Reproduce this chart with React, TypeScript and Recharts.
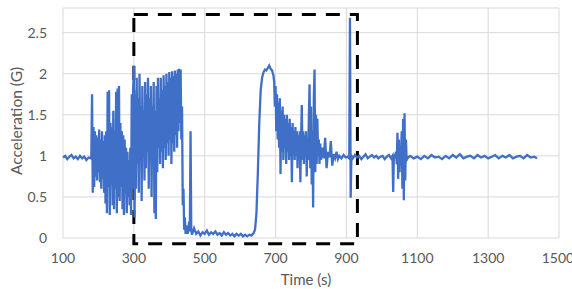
import {
  LineChart, Line, XAxis, YAxis, CartesianGrid, ReferenceArea,
} from 'recharts';

// [time (s), acceleration (G)], phase by phase
const idleBefore: [number, number][] = [
  [100, 0.98], [106, 1.0], [112, 0.96], [118, 0.99], [124, 1.01], [130, 0.97], [136, 0.99],
  [142, 0.96], [148, 1.0], [154, 0.97], [160, 0.99], [166, 0.95], [172, 0.98], [178, 0.97],
];

const handling: [number, number][] = [
  [180, 1.0], [182, 1.75], [184, 0.55], [186, 1.35], [188, 0.62], [190, 1.3], [192, 0.75],
  [194, 1.25], [196, 0.7], [198, 1.22], [200, 0.8], [202, 1.32], [204, 0.68], [206, 1.2],
  [208, 0.6], [210, 1.3], [212, 0.72], [214, 1.18], [216, 0.55], [218, 1.25], [220, 0.42],
  [222, 1.3], [224, 0.3], [226, 1.78], [228, 0.62], [230, 1.8], [232, 0.28], [234, 1.4],
  [236, 0.65], [238, 1.35], [240, 0.4], [242, 1.55], [244, 0.35], [246, 1.3], [248, 0.6],
  [250, 1.78], [252, 0.3], [254, 1.82], [256, 0.5], [258, 1.85], [260, 0.45], [262, 1.4],
  [264, 0.62], [266, 1.3], [268, 0.35], [270, 1.25], [272, 0.28], [274, 1.2], [276, 0.55],
  [278, 1.1], [280, 0.3], [282, 1.05], [284, 0.5], [286, 0.95], [288, 0.4], [290, 1.1],
  [292, 0.28], [294, 1.75], [296, 0.6], [298, 1.8],
];

const launch: [number, number][] = [
  [300, 2.1], [302, 0.25], [304, 1.75], [306, 0.6], [308, 1.95], [310, 0.9], [312, 1.7],
  [314, 0.55], [316, 2.0], [318, 0.95], [320, 1.6], [322, 0.45], [324, 1.85], [326, 1.0],
  [328, 1.55], [330, 0.7], [332, 1.9], [334, 0.85], [336, 1.75], [338, 1.05], [340, 1.95],
  [342, 0.6], [344, 1.7], [346, 0.95], [348, 1.85], [350, 0.5], [352, 1.6], [354, 1.0],
  [356, 1.9], [358, 0.3], [360, 1.55], [362, 0.23], [364, 1.85], [366, 0.8], [368, 1.95],
  [370, 1.1], [372, 1.7], [374, 0.9], [376, 1.95], [378, 1.05], [380, 1.8], [382, 0.85],
  [384, 1.98], [386, 1.1], [388, 1.85], [390, 0.95], [392, 2.0], [394, 1.15], [396, 1.9],
  [398, 1.0], [400, 2.02], [402, 1.2], [404, 1.95], [406, 0.9], [408, 2.03], [410, 1.15],
  [412, 1.97], [414, 1.05], [416, 2.04], [418, 1.25], [420, 2.0], [422, 1.1], [424, 2.05],
  [426, 1.3], [428, 2.06], [430, 1.4], [432, 2.05], [434, 1.2], [436, 1.6], [438, 0.4],
  [440, 0.6], [442, 0.1], [444, 0.25], [446, 0.05],
];

const freeFall: [number, number][] = [
  [448, 0.15], [452, 0.05], [456, 0.2], [458, 0.08], [460, 1.3], [462, 0.1], [464, 0.04],
  [470, 0.12], [476, 0.05], [482, 0.08], [488, 0.03], [494, 0.07], [500, 0.05], [506, 0.09],
  [512, 0.04], [518, 0.07], [524, 0.05], [530, 0.08], [536, 0.04], [542, 0.06], [548, 0.03],
  [554, 0.07], [560, 0.04], [566, 0.06], [572, 0.03], [578, 0.05], [584, 0.02], [590, 0.05],
  [596, 0.03], [602, 0.05], [608, 0.02], [614, 0.04], [620, 0.02], [626, 0.04], [632, 0.03],
  [638, 0.06],
];

const recovery: [number, number][] = [
  [642, 0.1], [646, 0.3], [650, 0.8], [654, 1.4], [658, 1.8], [662, 1.95], [666, 2.02],
  [670, 2.05], [674, 2.04], [678, 2.07], [682, 2.1], [686, 2.06], [690, 2.04], [694, 1.98],
  [696, 1.9],
];

const settling: [number, number][] = [
  [698, 1.6], [700, 1.85], [702, 1.3], [704, 1.75], [706, 1.2], [708, 1.65], [710, 1.1],
  [712, 1.7], [714, 0.78], [716, 1.55], [718, 1.05], [720, 1.6], [722, 0.95], [724, 1.5],
  [726, 1.1], [728, 1.45], [730, 0.9], [732, 1.5], [734, 1.05], [736, 1.4], [738, 0.95],
  [740, 1.45], [742, 1.0], [744, 1.35], [746, 0.68], [748, 1.4], [750, 1.05], [752, 1.3],
  [754, 0.95], [756, 1.35], [758, 1.0], [760, 1.3], [762, 0.85], [764, 1.25], [766, 1.0],
  [768, 1.3], [770, 0.68], [772, 1.2], [774, 1.62], [776, 0.95], [778, 1.3], [780, 0.9],
  [782, 1.25], [784, 1.0], [786, 1.3], [788, 0.75], [790, 1.2], [792, 0.95], [794, 1.5],
  [796, 1.87], [798, 0.85], [800, 1.6], [802, 0.65], [804, 1.3], [806, 0.37], [808, 1.7],
  [810, 2.05], [812, 0.8], [814, 1.5], [816, 0.9], [818, 1.45], [820, 1.0], [822, 1.2],
  [824, 0.9], [826, 1.15], [828, 0.95],
];

const idleMiddle: [number, number][] = [
  [832, 1.1], [836, 0.97], [840, 1.22], [844, 0.85], [848, 1.05], [852, 0.98], [856, 1.18],
  [860, 0.88], [864, 1.02], [868, 0.97], [872, 1.05], [876, 0.96], [880, 1.0], [886, 0.97],
  [892, 1.01], [898, 0.98], [904, 0.99], [908, 0.97], [910, 2.68], [912, 0.49], [914, 1.0],
  [918, 0.97], [924, 1.01], [930, 0.98], [936, 1.0], [942, 0.96], [948, 0.99], [954, 1.02],
  [960, 0.97], [966, 0.99], [972, 1.01], [978, 0.98], [984, 1.0], [990, 0.97], [996, 0.99],
  [1002, 1.0], [1008, 0.96], [1014, 0.99], [1020, 1.01], [1026, 0.97],
];

const bump: [number, number][] = [
  [1030, 1.0], [1032, 0.56], [1034, 1.02], [1036, 0.97], [1040, 1.05], [1042, 0.9],
  [1044, 1.28], [1046, 0.72], [1048, 1.2], [1050, 0.8], [1052, 1.1], [1054, 0.95],
  [1056, 1.3], [1058, 0.6], [1060, 1.45], [1062, 0.46], [1064, 1.52], [1066, 0.7],
  [1068, 1.2], [1070, 0.95],
];

const idleAfter: [number, number][] = [
  [1074, 0.98], [1080, 1.0], [1090, 0.97], [1100, 0.99], [1110, 0.96], [1120, 1.0],
  [1130, 0.97], [1140, 1.01], [1150, 0.98], [1160, 0.99], [1170, 0.96], [1180, 1.0],
  [1190, 0.97], [1200, 1.01], [1210, 0.98], [1220, 1.02], [1230, 0.97], [1240, 0.99],
  [1250, 1.0], [1260, 0.97], [1270, 1.01], [1280, 0.98], [1290, 1.0], [1300, 0.97],
  [1310, 0.99], [1320, 1.01], [1330, 0.97], [1340, 1.0], [1350, 0.98], [1360, 1.01],
  [1370, 0.97], [1380, 0.99], [1390, 1.0], [1400, 0.97], [1410, 1.01], [1420, 0.98],
  [1430, 0.99], [1438, 0.97],
];

const xTicks = [100, 300, 500, 700, 900, 1100, 1300, 1500];
const yTicks = [0, 0.5, 1, 1.5, 2, 2.5];

// highlighted window (dashed box)
const boxTime = [300, 931];
const boxAccel = [-0.07, 2.72];

const data = [
  ...idleBefore, ...handling, ...launch, ...freeFall, ...recovery,
  ...settling, ...idleMiddle, ...bump, ...idleAfter,
].map(([t, g]) => ({ t, g }));

const TEXT = '#595959';
const FONT = 'Lato, "DejaVu Sans", sans-serif';

export default function App() {
  return (
    <div style={{ width: 572, height: 289, background: '#fff' }}>
      <style>{'body{margin:0}'}</style>
      <LineChart
        width={572}
        height={289}
        data={data}
        margin={{ top: 8, right: 13, bottom: 0, left: 0 }}
        style={{ fontFamily: FONT }}
      >
        <CartesianGrid stroke="#d9d9d9" strokeWidth={1} />
        <XAxis
          dataKey="t"
          type="number"
          domain={[100, 1500]}
          ticks={xTicks}
          height={51}
          tickSize={0}
          tickMargin={15}
          axisLine={false}
          tickLine={false}
          tick={{ fontSize: 14, fill: TEXT }}
          label={() => (
            <text x={306} y={279} textAnchor="middle" dominantBaseline="central"
              fontSize={15} fill={TEXT} fontFamily={FONT}>
              Time (s)
            </text>
          )}
        />
        <YAxis
          type="number"
          domain={[0, 2.8]}
          ticks={yTicks}
          width={63}
          tickSize={0}
          tickMargin={16}
          axisLine={false}
          tickLine={false}
          tick={{ fontSize: 14, fill: TEXT }}
          label={() => (
            <text x={16} y={121} textAnchor="middle" dominantBaseline="central"
              transform="rotate(-90 16 121)" fontSize={15.5} fill={TEXT} fontFamily={FONT}>
              Acceleration (G)
            </text>
          )}
        />
        <Line
          type="linear"
          dataKey="g"
          stroke="#3F6FC6"
          strokeWidth={2.3}
          dot={false}
          isAnimationActive={false}
        />
        <ReferenceArea
          x1={boxTime[0]}
          x2={boxTime[1]}
          y1={boxAccel[0]}
          y2={boxAccel[1]}
          ifOverflow="visible"
          fill="none"
          fillOpacity={0}
          stroke="#000"
          strokeWidth={3}
          strokeDasharray="14 10"
        />
      </LineChart>
    </div>
  );
}
